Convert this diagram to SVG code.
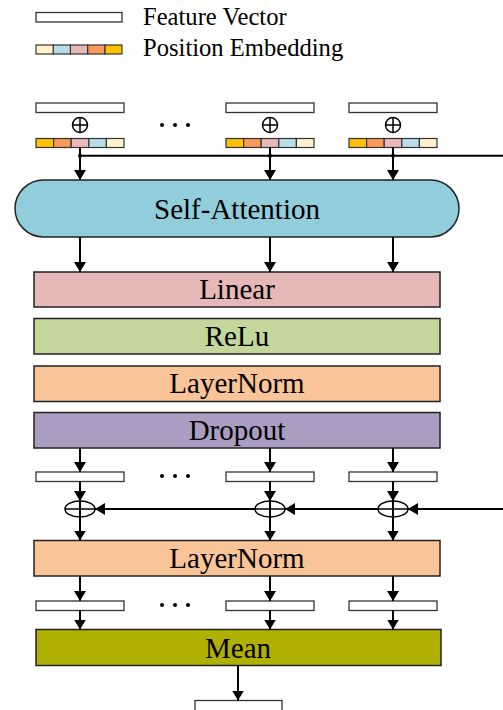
<svg xmlns="http://www.w3.org/2000/svg" width="503" height="710" viewBox="0 0 503 710">
<style>
text{font-family:"Liberation Serif","Times New Roman",serif;fill:#000}
.lbl{font-size:29px;text-anchor:middle}
.leg{font-size:24.6px}
.fv{fill:#fff;stroke:#333;stroke-width:1.3}
.pe{stroke:#333;stroke-width:1.2}
.box{stroke:#222;stroke-width:1.5}
.ln{fill:none;stroke:#000;stroke-width:2}
.th{fill:none;stroke:#000;stroke-width:1.5}
</style>
<defs>
<marker id="ah" markerUnits="userSpaceOnUse" markerWidth="10" markerHeight="12" viewBox="0 0 10 12" refX="10" refY="6" orient="auto">
<path d="M0,0 L10,6 L0,12 Z" fill="#000"/>
</marker>
<g id="pe-fwd">
<rect x="0" y="0" width="17.6" height="9" fill="#FFC000" class="pe"/>
<rect x="17.6" y="0" width="17.6" height="9" fill="#F79A5A" class="pe"/>
<rect x="35.2" y="0" width="17.6" height="9" fill="#E6B9B8" class="pe"/>
<rect x="52.8" y="0" width="17.6" height="9" fill="#B7DDE8" class="pe"/>
<rect x="70.4" y="0" width="17.6" height="9" fill="#FFF2CC" class="pe"/>
</g>
<g id="oplus">
<circle cx="0" cy="0" r="7.5" class="th"/>
<path d="M-7.5,0 H7.5 M0,-7.5 V7.5" class="th"/>
</g>
<g id="dots">
<circle cx="-13" cy="0" r="2" fill="#000"/>
<circle cx="0" cy="0" r="2" fill="#000"/>
<circle cx="13" cy="0" r="2" fill="#000"/>
</g>
</defs>

<g id="legend">
<rect x="36" y="12.5" width="86" height="9.5" class="fv"/>
<text x="143" y="25" class="leg">Feature Vector</text>
<g transform="translate(36,45) scale(0.977,1) translate(88,0) scale(-1,1)"><use href="#pe-fwd"/></g>
<text x="143" y="56" class="leg">Position Embedding</text>
</g>

<g id="inputs">
<rect x="36" y="103" width="88" height="9.5" class="fv"/>
<rect x="226" y="103" width="88" height="9.5" class="fv"/>
<rect x="349" y="103" width="88" height="9.5" class="fv"/>
<use href="#oplus" x="80" y="125"/>
<use href="#oplus" x="270" y="125"/>
<use href="#oplus" x="393" y="125"/>
<use href="#dots" x="175" y="125"/>
<use href="#pe-fwd" x="36" y="138.5"/>
<use href="#pe-fwd" x="226" y="138.5"/>
<use href="#pe-fwd" x="349" y="138.5"/>
</g>

<g id="self-attention">
<rect x="15" y="180" width="444" height="57" rx="28.5" ry="28.5" fill="#92CDDC" class="box"/>
<text x="237" y="219" class="lbl">Self-Attention</text>
</g>
<g id="linear">
<rect x="34" y="272" width="406" height="35" fill="#E6B9B8" class="box"/>
<text x="237" y="299" class="lbl">Linear</text>
</g>
<g id="relu">
<rect x="34" y="318.5" width="406" height="35.5" fill="#C3D69B" class="box"/>
<text x="237" y="346" class="lbl">ReLu</text>
</g>
<g id="layernorm1">
<rect x="34" y="366" width="406" height="35.5" fill="#FAC499" class="box"/>
<text x="237" y="393" class="lbl">LayerNorm</text>
</g>
<g id="dropout">
<rect x="34" y="412.5" width="406" height="35.5" fill="#AB9CC1" class="box"/>
<text x="237" y="440" class="lbl">Dropout</text>
</g>

<g id="mid-vectors">
<rect x="36" y="472" width="88" height="9.5" class="fv"/>
<rect x="226" y="472" width="88" height="9.5" class="fv"/>
<rect x="349" y="472" width="88" height="9.5" class="fv"/>
<use href="#dots" x="175" y="476"/>
</g>

<g id="adds">
<ellipse cx="80" cy="509" rx="15" ry="8" class="th"/>
<ellipse cx="270" cy="509" rx="15" ry="8" class="th"/>
<ellipse cx="393" cy="509" rx="15" ry="8" class="th"/>
</g>

<g id="layernorm2">
<rect x="34" y="540.5" width="406" height="35.5" fill="#FAC499" class="box"/>
<text x="237" y="568" class="lbl">LayerNorm</text>
</g>

<g id="out-vectors">
<rect x="36" y="601" width="88" height="9.5" class="fv"/>
<rect x="226" y="601" width="88" height="9.5" class="fv"/>
<rect x="349" y="601" width="88" height="9.5" class="fv"/>
<use href="#dots" x="175" y="605"/>
</g>

<g id="mean">
<rect x="36" y="629.5" width="405" height="36" fill="#B0B000" class="box"/>
<text x="238" y="658" class="lbl">Mean</text>
</g>

<g id="output">
<rect x="195" y="700.5" width="87" height="12" class="fv"/>
</g>

<g id="connectors">
<path d="M80,155.7 H503" class="ln"/>
<circle cx="80" cy="155.7" r="2" fill="#000"/>
<circle cx="270" cy="155.7" r="2" fill="#000"/>
<circle cx="393" cy="155.7" r="2" fill="#000"/>
<path d="M80,147.5 V180" class="ln" marker-end="url(#ah)"/>
<path d="M270,147.5 V180" class="ln" marker-end="url(#ah)"/>
<path d="M393,147.5 V180" class="ln" marker-end="url(#ah)"/>

<path d="M80,237 V272" class="ln" marker-end="url(#ah)"/>
<path d="M270,237 V272" class="ln" marker-end="url(#ah)"/>
<path d="M393,237 V272" class="ln" marker-end="url(#ah)"/>

<path d="M80,448 V472" class="ln" marker-end="url(#ah)"/>
<path d="M270,448 V472" class="ln" marker-end="url(#ah)"/>
<path d="M393,448 V472" class="ln" marker-end="url(#ah)"/>

<path d="M80,481.5 V501" class="ln" marker-end="url(#ah)"/>
<path d="M270,481.5 V501" class="ln" marker-end="url(#ah)"/>
<path d="M393,481.5 V501" class="ln" marker-end="url(#ah)"/>
<path d="M80,501 V540.5" class="ln" marker-end="url(#ah)"/>
<path d="M270,501 V540.5" class="ln" marker-end="url(#ah)"/>
<path d="M393,501 V540.5" class="ln" marker-end="url(#ah)"/>

<path d="M503,509 H408" class="ln" marker-end="url(#ah)"/>
<path d="M378,509 H285" class="ln" marker-end="url(#ah)"/>
<path d="M255,509 H95" class="ln" marker-end="url(#ah)"/>
<path d="M65,509 H95 M255,509 H285 M378,509 H408" class="th"/>

<path d="M80,576 V601" class="ln" marker-end="url(#ah)"/>
<path d="M270,576 V601" class="ln" marker-end="url(#ah)"/>
<path d="M393,576 V601" class="ln" marker-end="url(#ah)"/>

<path d="M80,610.5 V629.5" class="ln" marker-end="url(#ah)"/>
<path d="M270,610.5 V629.5" class="ln" marker-end="url(#ah)"/>
<path d="M393,610.5 V629.5" class="ln" marker-end="url(#ah)"/>

<path d="M238,665.5 V700.5" class="ln" marker-end="url(#ah)"/>
</g>
</svg>
